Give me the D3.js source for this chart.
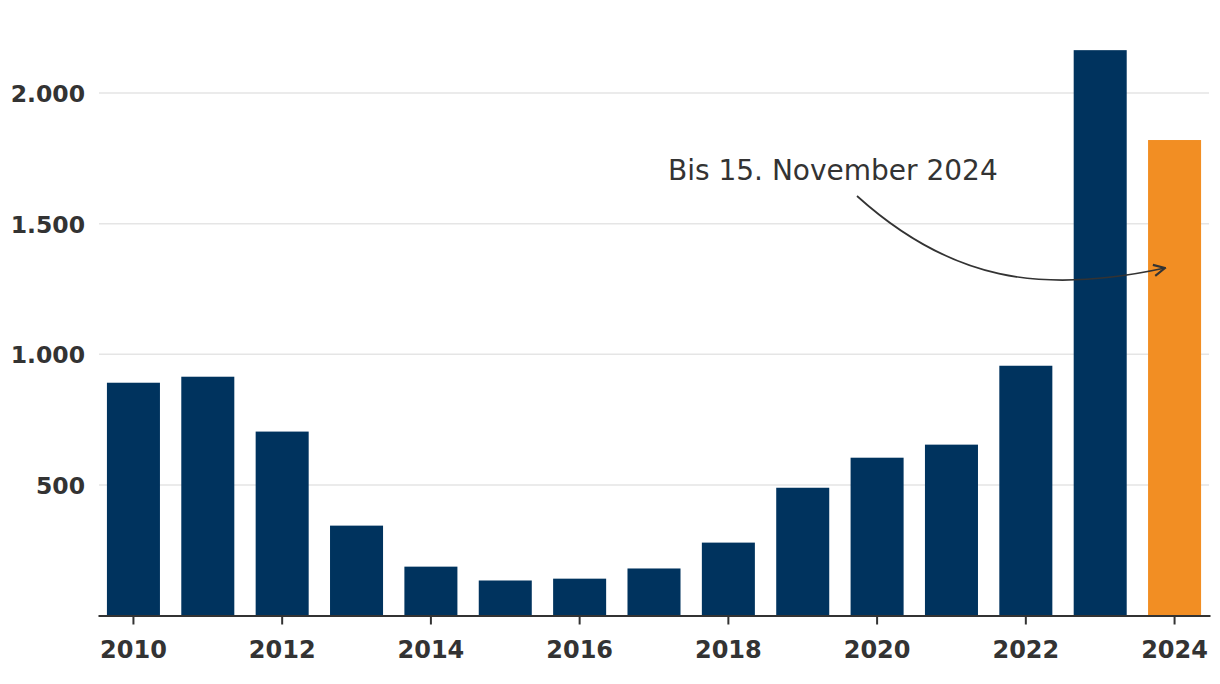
<!DOCTYPE html>
<html><head><meta charset="utf-8">
<script src="https://cdn.jsdelivr.net/npm/d3@7"></script>
<style>body{margin:0;background:#fff}svg{display:block}</style>
</head><body>
<svg id="c" width="1220" height="684"></svg>
<script>
const years = [2010,2011,2012,2013,2014,2015,2016,2017,2018,2019,2020,2021,2022,2023,2024];
const values = [891,914,704,344,187,134,141,180,279,489,604,654,956,2164,1820];
const yTicks = [500,1000,1500,2000];
const xTickYears = [2010,2012,2014,2016,2018,2020,2022,2024];
const annotation = "Bis 15. November 2024";

const svg = d3.select("#c");
const left = 98, right = 1210, bottom = 615.5;
const x = d3.scaleBand().domain(years).range([left,right]).paddingInner(0.287).paddingOuter(0.12);
const y = d3.scaleLinear().domain([0,2000]).range([bottom,93]);

// grid
svg.append("g").selectAll("line").data(yTicks).join("line")
  .attr("x1",left+1).attr("x2",right-1)
  .attr("y1",d=>y(d)).attr("y2",d=>y(d))
  .attr("stroke","#e5e5e5").attr("stroke-width",1.5);

// y labels
const yAxis = d3.axisLeft(y).tickValues(yTicks).tickSize(0).tickPadding(0)
  .tickFormat(d=>d3.format(",")(d).replace(/,/g,"."));
const ya = svg.append("g").attr("transform",`translate(85,0)`).call(yAxis);
ya.select(".domain").remove();
ya.selectAll("text").attr("font-family","DejaVu Sans").attr("font-weight","bold")
  .attr("font-size",23.5).attr("fill","#333").attr("dy","0.36em");

// bars
svg.append("g").selectAll("rect").data(years).join("rect")
  .attr("x",d=>x(d)).attr("width",x.bandwidth())
  .attr("y",(d,i)=>y(values[i])).attr("height",(d,i)=>bottom-y(values[i]))
  .attr("fill",d=>d===2024?"#f28e23":"#00335e");

// x axis
const xAxis = d3.axisBottom(x).tickValues(xTickYears).tickSize(9).tickPadding(16).tickSizeOuter(0);
const xa = svg.append("g").attr("transform",`translate(0,${bottom})`).call(xAxis);
xa.select(".domain").attr("stroke","#333").attr("stroke-width",2);
xa.selectAll(".tick line").attr("stroke","#333").attr("stroke-width",2);
xa.selectAll("text").attr("font-family","DejaVu Sans").attr("font-weight","bold")
  .attr("font-size",24).attr("fill","#333");

// annotation
svg.append("text").attr("x",668).attr("y",180).text(annotation)
  .attr("font-family","DejaVu Sans").attr("font-size",28).attr("fill","#333");
svg.append("defs").append("marker").attr("id","ah").attr("viewBox","0 0 10 10")
  .attr("refX",9).attr("refY",5).attr("markerWidth",14).attr("markerHeight",14)
  .attr("markerUnits","userSpaceOnUse").attr("orient","auto")
  .append("path").attr("d","M1,1 L9,5 L1,9").attr("fill","none").attr("stroke","#333").attr("stroke-width",1.5);
svg.append("path").attr("d","M857,196 C950,280 1040,295 1165,268")
  .attr("fill","none").attr("stroke","#333").attr("stroke-width",1.7).attr("marker-end","url(#ah)");
</script>
</body></html>
